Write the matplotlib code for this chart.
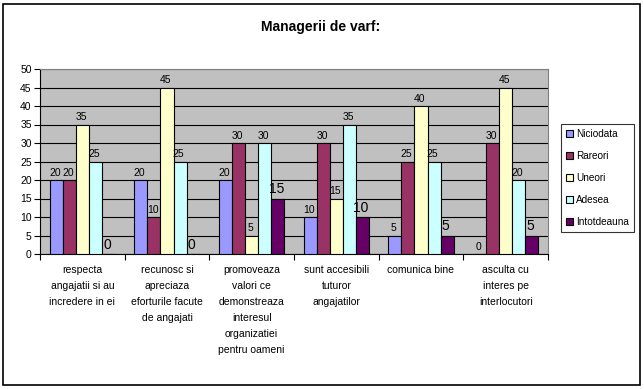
import numpy as np
import matplotlib.pyplot as plt
from matplotlib.patches import Rectangle

plt.rcParams['font.family'] = ['Liberation Sans', 'DejaVu Sans']

categories = ['respecta\nangajatii si au\nincredere in ei',
              'recunosc si\napreciaza\neforturile facute\nde angajati',
              'promoveaza\nvalori ce\ndemonstreaza\ninteresul\norganizatiei\npentru oameni',
              'sunt accesibili\ntuturor\nangajatilor',
              'comunica bine',
              'asculta cu\ninteres pe\ninterlocutori']
series = ['Niciodata', 'Rareori', 'Uneori', 'Adesea', 'Intotdeauna']
niciodata = [20, 20, 20, 10, 5, 0]
rareori = [20, 10, 30, 30, 25, 30]
uneori = [35, 45, 5, 15, 40, 45]
adesea = [25, 25, 30, 35, 25, 20]
intotdeauna = [0, 0, 15, 10, 5, 5]
values = [niciodata, rareori, uneori, adesea, intotdeauna]
colors = ['#9999FF', '#993366', '#FFFFCC', '#CCFFFF', '#660066']
label_sizes = [7.5, 7.5, 7.5, 7.5, 10]

W, H = 644, 389
fig = plt.figure(figsize=(W / 100, H / 100), dpi=100)
fig.patches.append(Rectangle((3 / W, 4 / H), 637 / W, 381 / H, transform=fig.transFigure,
                             fill=False, edgecolor='black', linewidth=1.2))

ax = fig.add_axes([40 / W, 1 - 254 / H, 508 / W, 185 / H])
ax.set_facecolor('#C0C0C0')

n = len(categories)
gap = 1.5
bw = 1.0 / (len(series) + gap)
x = np.arange(n)
for i, (name, vals) in enumerate(zip(series, values)):
    pos = x - 0.5 + gap * bw / 2 + bw * (i + 0.5)
    ax.bar(pos, vals, width=bw, color=colors[i], edgecolor='black', linewidth=0.8,
           label=name, zorder=3)
    for p, v in zip(pos, vals):
        ax.text(p - bw * 0.1, v + 0.6, str(v), ha='center', va='bottom',
                fontsize=label_sizes[i], zorder=4)

ax.set_xlim(-0.5, n - 0.5)
ax.set_ylim(0, 50)
ax.set_yticks(range(0, 55, 5))
ax.yaxis.grid(True, color='black', linewidth=0.8, zorder=1)
ax.set_axisbelow(True)
ax.tick_params(axis='y', labelsize=7.5, length=4, direction='out', pad=2)

ax.set_xticks(np.arange(-0.5, n, 1.0))
ax.set_xticklabels([])
ax.tick_params(axis='x', length=4, direction='out')
for xi, c in zip(x, categories):
    ax.text(xi, -3.0, c, ha='center', va='top', fontsize=7.5, linespacing=1.75)

for s in ['top', 'right']:
    ax.spines[s].set_color('#808080')
for s in ['left', 'bottom']:
    ax.spines[s].set_color('black')

fig.text(321 / W, 1 - 27 / H, 'Managerii de varf:', ha='center', va='center',
         fontsize=10, fontweight='bold')

leg = ax.legend(loc='upper left', bbox_to_anchor=(561 / W, 1 - 124 / H),
                bbox_transform=fig.transFigure, fontsize=7.2, frameon=True,
                fancybox=False, edgecolor='black', handlelength=0.7, handleheight=0.7,
                handletextpad=0.3, labelspacing=1.2, borderpad=0.5, borderaxespad=0)
leg.get_frame().set_linewidth(0.8)

plt.savefig('out.png', dpi=100)
plt.close()
